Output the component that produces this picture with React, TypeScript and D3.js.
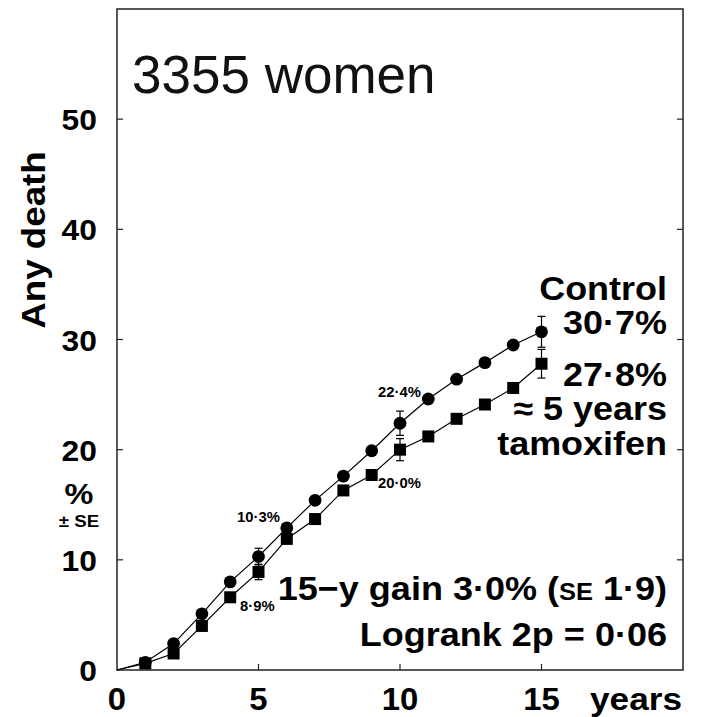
import React from 'react';
import { scaleLinear, line } from 'd3';

// years of follow-up
const years = [0, 1, 2, 3, 4, 5, 6, 7, 8, 9, 10, 11, 12, 13, 14, 15];
// cumulative any death (%)
const control = [0, 0.7, 2.4, 5.1, 8.0, 10.3, 12.9, 15.4, 17.6, 19.9, 22.4, 24.6, 26.4, 27.9, 29.5, 30.7];
const tamoxifen = [0, 0.6, 1.5, 4.0, 6.6, 8.9, 11.9, 13.7, 16.3, 17.7, 20.0, 21.2, 22.8, 24.1, 25.6, 27.8];
// standard errors shown at 5, 10, 15 years
const seYears = [5, 10, 15];
const controlSE = [0.75, 1.1, 1.4];
const tamoxifenSE = [0.7, 1.0, 1.3];
const yTicks = [0, 10, 20, 30, 40, 50];
const xTicks = [0, 5, 10, 15];

const FONT = 'Liberation Sans, Arial, Helvetica, sans-serif';

// bold text, a little wider than Liberation Sans Bold
const B = ({ x, y, size, anchor = 'start', sx = 1.06, children }: any) => (
  <text transform={`translate(${x},${y}) scale(${sx},1)`} textAnchor={anchor}
    fontSize={size} fontWeight="bold">{children}</text>
);

export default function App() {
  const margin = { top: 9, right: 18, bottom: 47, left: 117 };
  const W = 701, H = 717;
  const x = scaleLinear().domain([0, 20]).range([margin.left, W - margin.right]);
  const y = scaleLinear().domain([0, 60]).range([H - margin.bottom, margin.top]);

  const mk = (vals: number[]) =>
    line<number>().x((_, i) => x(years[i])).y((d) => y(d))(vals) || '';

  const errBar = (yr: number, v: number, se: number, key: string) => (
    <g key={key} stroke="#000" strokeWidth={1.2}>
      <line x1={x(yr)} x2={x(yr)} y1={y(v - se)} y2={y(v + se)} />
      <line x1={x(yr) - 4} x2={x(yr) + 4} y1={y(v - se)} y2={y(v - se)} />
      <line x1={x(yr) - 4} x2={x(yr) + 4} y1={y(v + se)} y2={y(v + se)} />
    </g>
  );

  const x0 = x(0), x1 = x(20), yb = y(0), yt = y(60);
  const rx = 667;

  return (
    <svg width={W} height={H} style={{ position: 'absolute', left: 0, top: 0 }} fontFamily={FONT}>
      <rect width={W} height={H} fill="#fff" />
      {/* frame */}
      <rect x={x0} y={yt} width={x1 - x0} height={yb - yt} fill="none" stroke="#222" strokeWidth={1.5} />
      {/* inward ticks */}
      {yTicks.filter((t) => t > 0).map((t) => (
        <g key={'yt' + t} stroke="#222" strokeWidth={1.2}>
          <line x1={x0} x2={x0 + 6} y1={y(t)} y2={y(t)} />
          <line x1={x1} x2={x1 - 6} y1={y(t)} y2={y(t)} />
        </g>
      ))}
      {xTicks.filter((t) => t > 0).map((t) => (
        <line key={'xt' + t} x1={x(t)} x2={x(t)} y1={yb} y2={yb - 6} stroke="#222" strokeWidth={1.2} />
      ))}
      {yTicks.map((t) => (
        <B key={'yl' + t} x={97} y={y(t) + 11} size={30} anchor="end">{t}</B>
      ))}
      {xTicks.map((t) => (
        <B key={'xl' + t} x={x(t)} y={710} size={31} anchor="middle">{t}</B>
      ))}
      <B x={590} y={710} size={32} sx={1.1}>years</B>

      <text transform="translate(45,240) rotate(-90) scale(1.08,1)" textAnchor="middle" fontSize={34} fontWeight="bold">Any death</text>
      <B x={79} y={504} size={29} sx={1.12} anchor="middle">%</B>
      <B x={79} y={527} size={17} sx={1.1} anchor="middle">± SE</B>

      <text x={132} y={93} fontSize={53} fill="#111">3355 women</text>

      {/* series */}
      <path d={mk(control)} fill="none" stroke="#000" strokeWidth={1.2} />
      <path d={mk(tamoxifen)} fill="none" stroke="#000" strokeWidth={1.2} />
      {seYears.map((yr, i) => errBar(yr, control[years.indexOf(yr)], controlSE[i], 'ce' + i))}
      {seYears.map((yr, i) => errBar(yr, tamoxifen[years.indexOf(yr)], tamoxifenSE[i], 'te' + i))}
      {years.slice(1).map((yr, i) => (
        <circle key={'c' + yr} cx={x(yr)} cy={y(control[i + 1])} r={6.4} fill="#000" />
      ))}
      {years.slice(1).map((yr, i) => (
        <rect key={'s' + yr} x={x(yr) - 6} y={y(tamoxifen[i + 1]) - 6} width={12} height={12} fill="#000" />
      ))}

      {/* point labels */}
      <B x={237} y={522} size={14}>10·3%</B>
      <B x={240} y={611} size={14}>8·9%</B>
      <B x={378} y={397} size={14}>22·4%</B>
      <B x={378} y={488} size={14}>20·0%</B>

      {/* right annotations */}
      <B x={rx} y={300} size={33} sx={1.09} anchor="end">Control</B>
      <B x={rx} y={334} size={33} sx={1.09} anchor="end">30·7%</B>
      <B x={rx} y={386} size={33} sx={1.09} anchor="end">27·8%</B>
      <B x={rx} y={420} size={33} sx={1.09} anchor="end">≈ 5 years</B>
      <B x={rx} y={455} size={33} sx={1.09} anchor="end">tamoxifen</B>
      <B x={rx} y={600} size={34} anchor="end">15−y gain 3·0% (<tspan fontSize={24}>SE</tspan> 1·9)</B>
      <B x={rx} y={646} size={34} anchor="end">Logrank 2p = 0·06</B>
    </svg>
  );
}
